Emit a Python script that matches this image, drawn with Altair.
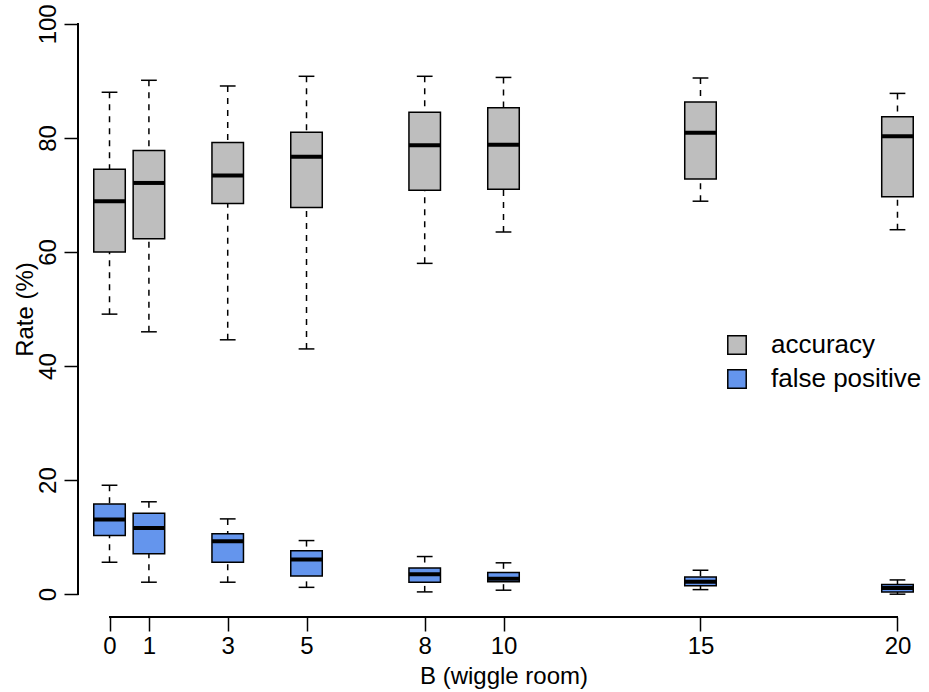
import altair as alt
import pandas as pd

# ---- data ----
B = [0, 1, 3, 5, 8, 10, 15, 20]

acc_low = [49.1, 46.0, 44.6, 43.0, 58.0, 63.5, 68.9, 63.9]
acc_q1 = [60.0, 62.3, 68.5, 67.8, 70.8, 71.0, 72.8, 69.7]
acc_med = [68.9, 72.1, 73.4, 76.7, 78.7, 78.8, 80.9, 80.3]
acc_q3 = [74.5, 77.8, 79.2, 81.0, 84.5, 85.3, 86.3, 83.7]
acc_high = [88.0, 90.1, 89.1, 90.8, 90.8, 90.6, 90.5, 87.8]

fp_low = [5.6, 2.1, 2.1, 1.2, 0.4, 0.7, 0.8, 0.0]
fp_q1 = [10.3, 7.1, 5.6, 3.2, 2.1, 2.2, 1.5, 0.4]
fp_med = [13.1, 11.6, 9.3, 6.1, 3.5, 2.7, 2.2, 1.1]
fp_q3 = [15.8, 14.2, 10.6, 7.6, 4.6, 3.8, 3.0, 1.7]
fp_high = [19.1, 16.2, 13.2, 9.4, 6.6, 5.5, 4.2, 2.5]

series_names = ["accuracy", "false positive"]
fills = ["#BEBEBE", "#6495ED"]
y_ticks = [0, 20, 40, 60, 80, 100]
x_ticks = B

rows = []
for name, lo, q1, md, q3, hi in [
    ("accuracy", acc_low, acc_q1, acc_med, acc_q3, acc_high),
    ("false positive", fp_low, fp_q1, fp_med, fp_q3, fp_high),
]:
    for i, b in enumerate(B):
        rows.append(dict(series=name, B=b, low=lo[i], q1=q1[i], med=md[i], q3=q3[i], high=hi[i]))
df = pd.DataFrame(rows)

FONT = "Liberation Sans"

xs = alt.Scale(domain=[-0.8, 20.8], nice=False, zero=False)
ys = alt.Scale(domain=[-4, 104], nice=False, zero=False)

xaxis = alt.Axis(
    values=x_ticks, title="B (wiggle room)", domain=False, grid=False,
    tickSize=14, tickWidth=1.5, tickColor="black",
    labelFont=FONT, labelFontSize=24, labelColor="black", labelPadding=3,
    labelFlush=False, labelOverlap=False,
    titleFont=FONT, titleFontSize=24, titleFontWeight="normal", titleColor="black",
    titleBaseline="alphabetic", titleY=66,
)
yaxis = alt.Axis(
    values=y_ticks, title="Rate (%)", domain=False, grid=False,
    tickSize=14, tickWidth=1.5, tickColor="black",
    labelFont=FONT, labelFontSize=24, labelColor="black", labelPadding=9,
    labelAngle=270, labelAlign="center", labelBaseline="alphabetic",
    labelFlush=False, labelOverlap=False,
    titleFont=FONT, titleFontSize=24, titleFontWeight="normal", titleColor="black",
    titleAngle=270, titleAlign="center", titleBaseline="alphabetic",
    titleX=-46, titleY=308,
)


def X(f):
    return alt.X(f"{f}:Q", scale=xs, axis=xaxis)


def Y(f):
    return alt.Y(f"{f}:Q", scale=ys, axis=yaxis)


base = alt.Chart(df).transform_calculate(
    bl="datum.B - 0.4", br="datum.B + 0.4",
    cl="datum.B - 0.2", cr="datum.B + 0.2",
)

whisk_hi = base.mark_rule(strokeDash=[6, 6], strokeWidth=1.5, color="black").encode(
    x=X("B"), y=Y("high"), y2="q3:Q")
whisk_lo = base.mark_rule(strokeDash=[6, 6], strokeWidth=1.5, color="black").encode(
    x=X("B"), y=Y("low"), y2="q1:Q")
cap_hi = base.mark_rule(strokeWidth=1.5, color="black").encode(
    x=X("cl"), x2="cr:Q", y=Y("high"))
cap_lo = base.mark_rule(strokeWidth=1.5, color="black").encode(
    x=X("cl"), x2="cr:Q", y=Y("low"))
box = base.mark_rect(stroke="black", strokeWidth=1.5, opacity=1).encode(
    x=X("bl"), x2="br:Q", y=Y("q1"), y2="q3:Q",
    color=alt.Color(
        "series:N",
        scale=alt.Scale(domain=series_names, range=fills),
        legend=alt.Legend(
            title=None, orient="none", legendX=646, legendY=331,
            symbolType="square", symbolSize=340, symbolStrokeColor="black",
            symbolStrokeWidth=1.5, symbolOpacity=1,
            labelFont=FONT, labelFontSize=26, labelColor="black",
            labelOffset=21, rowPadding=8, padding=0,
        ),
    ),
)
med = base.mark_rule(strokeWidth=4, color="black").encode(
    x=X("bl"), x2="br:Q", y=Y("med"))

yline = alt.Chart(df).mark_rule(strokeWidth=1.5, color="black").encode(
    x=alt.value(0), y=alt.datum(0, scale=ys, axis=yaxis), y2=alt.datum(100))
xline = alt.Chart(df).mark_rule(strokeWidth=1.5, color="black").encode(
    y=alt.value(616), x=alt.datum(0, scale=xs, axis=xaxis), x2=alt.datum(20))

chart = alt.layer(
    whisk_hi, whisk_lo, box, med, cap_hi, cap_lo, yline, xline
).properties(
    width=851, height=616,
    padding={"left": 78, "top": 1, "right": 0, "bottom": 73},
    autosize=alt.AutoSizeParams(type="none"),
    background="white",
).configure_view(strokeWidth=0)

chart.save("out.html", embed_options={"renderer": "svg", "actions": False})
